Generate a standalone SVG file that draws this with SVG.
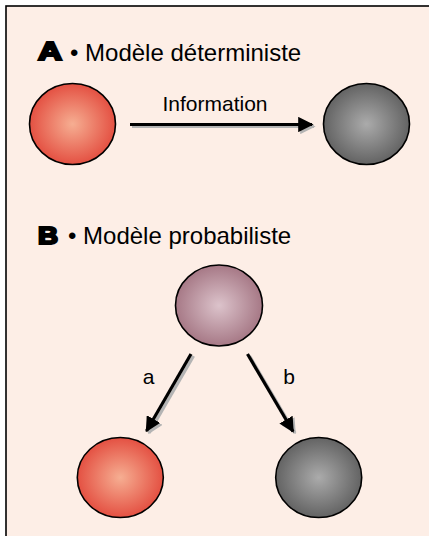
<svg xmlns="http://www.w3.org/2000/svg" width="429" height="536" viewBox="0 0 429 536">
<defs>
<radialGradient id="gRed" cx="50%" cy="50%" r="55%">
<stop offset="0" stop-color="#F6AE92"/>
<stop offset="1" stop-color="#E2473A"/>
</radialGradient>
<radialGradient id="gGray" cx="50%" cy="50%" r="55%">
<stop offset="0" stop-color="#ABABAB"/>
<stop offset="1" stop-color="#5C5C5C"/>
</radialGradient>
<radialGradient id="gPurple" cx="50%" cy="50%" r="55%">
<stop offset="0" stop-color="#DCC3CB"/>
<stop offset="1" stop-color="#A1717F"/>
</radialGradient>
<marker id="ah" viewBox="0 0 10 10" refX="9" refY="5" markerWidth="4.8" markerHeight="4.8" markerUnits="strokeWidth" orient="auto">
<path d="M0,0 L10,5 L0,10 z" fill="#000"/>
</marker>
<marker id="ahs" viewBox="0 0 10 10" refX="9" refY="5" markerWidth="4.8" markerHeight="4.8" markerUnits="strokeWidth" orient="auto">
<path d="M0,0 L10,5 L0,10 z" fill="#B4B4B4"/>
</marker>
</defs>
<style>
.node{stroke:#000;stroke-width:1.6}
.t{font-family:"Liberation Sans",Arial,sans-serif;fill:#000}
.big{font-family:"Liberation Sans",Arial,sans-serif;font-weight:bold;fill:#000;stroke:#000;stroke-width:2.2;stroke-linejoin:miter}
.conn{stroke:#000;stroke-width:3.2;fill:none;marker-end:url(#ah)}
.shadow{stroke:#B4B4B4;stroke-width:3.2;fill:none;marker-end:url(#ahs)}
</style>
<rect x="0" y="0" width="429" height="536" fill="#fff"/>
<rect x="6" y="6" width="440" height="540" fill="#FDEEE6" stroke="#000" stroke-width="1.6"/>

<g id="titleA">
<text class="big" x="38" y="60" font-size="26" textLength="24" lengthAdjust="spacingAndGlyphs">A</text>
<text class="t" x="70" y="61" font-size="24">• Modèle déterministe</text>
</g>
<g id="titleB">
<text class="big" x="38" y="243.5" font-size="23" textLength="20" lengthAdjust="spacingAndGlyphs">B</text>
<text class="t" x="68" y="244" font-size="24">• Modèle probabiliste</text>
</g>

<g id="connectors">
<line class="shadow" x1="132" y1="126.5" x2="314" y2="126.5"/>
<line class="conn" x1="130" y1="124.5" x2="312" y2="124.5"/>
<text class="t" x="215" y="111" font-size="21" text-anchor="middle">Information</text>

<line class="shadow" x1="193.5" y1="356" x2="149" y2="433"/>
<line class="conn" x1="191" y1="354" x2="146.5" y2="431"/>
<text class="t" x="148.5" y="384" font-size="21" text-anchor="middle">a</text>

<line class="shadow" x1="249.5" y1="356" x2="295" y2="433"/>
<line class="conn" x1="247.5" y1="354" x2="293" y2="431.5"/>
<text class="t" x="289" y="384" font-size="21" text-anchor="middle">b</text>
</g>

<g id="nodeA1"><ellipse class="node" cx="72.5" cy="124" rx="43" ry="40.5" fill="url(#gRed)"/></g>
<g id="nodeA2"><ellipse class="node" cx="366.5" cy="124" rx="43" ry="40.5" fill="url(#gGray)"/></g>
<g id="nodeB0"><ellipse class="node" cx="219" cy="305.5" rx="43.5" ry="40.5" fill="url(#gPurple)"/></g>
<g id="nodeB1"><ellipse class="node" cx="120.3" cy="477.5" rx="43" ry="40" fill="url(#gRed)"/></g>
<g id="nodeB2"><ellipse class="node" cx="318.7" cy="477.5" rx="43" ry="40" fill="url(#gGray)"/></g>
</svg>
